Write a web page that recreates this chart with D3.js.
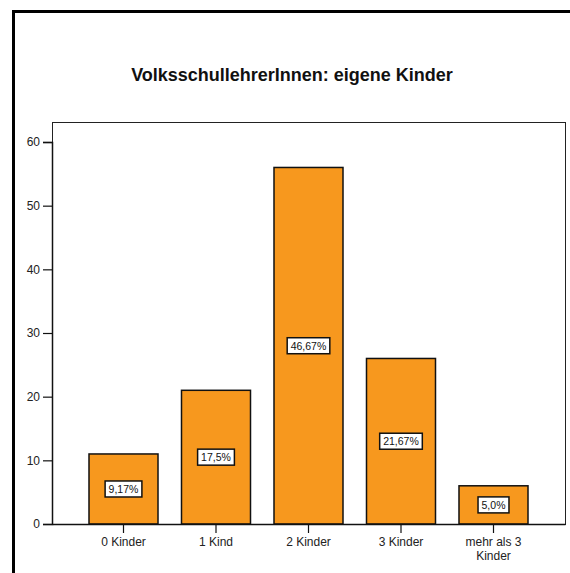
<!DOCTYPE html>
<html>
<head>
<meta charset="utf-8">
<script src="https://cdn.jsdelivr.net/npm/d3@7"></script>
<style>
  body { margin: 0; background: #fff; }
  svg { display: block; font-family: "Liberation Sans", Arial, sans-serif; }
</style>
</head>
<body>
<div id="chart"></div>
<script>
// data
var categories = ["0 Kinder", "1 Kind", "2 Kinder", "3 Kinder", "mehr als 3|Kinder"];
var counts = [11, 21, 56, 26, 6];
var percentLabels = ["9,17%", "17,5%", "46,67%", "21,67%", "5,0%"];
var yTicks = [0, 10, 20, 30, 40, 50, 60];
var title = "VolksschullehrerInnen: eigene Kinder";

var W = 570, H = 573;
var plot = {left: 52, top: 122, right: 565, bottom: 524};

var svg = d3.select("#chart").append("svg")
    .attr("width", W).attr("height", H);

// outer frame (only top & left visible in the reference)
svg.append("rect")
    .attr("x", 13.5).attr("y", 11.5)
    .attr("width", W + 10).attr("height", H + 10)
    .attr("fill", "none").attr("stroke", "#000").attr("stroke-width", 3);

svg.append("text")
    .attr("x", 292).attr("y", 81)
    .attr("text-anchor", "middle")
    .attr("font-size", 18).attr("font-weight", "bold")
    .attr("fill", "#111")
    .text(title);

var x = d3.scaleBand()
    .domain(categories)
    .range([plot.left, plot.right])
    .paddingInner(0.254)
    .paddingOuter(0.4);

var y = d3.scaleLinear()
    .domain([0, 60])
    .range([plot.bottom, plot.bottom - 382]);

// plot frame
svg.append("rect")
    .attr("x", plot.left + 0.5).attr("y", plot.top + 0.5)
    .attr("width", plot.right - plot.left).attr("height", plot.bottom - plot.top)
    .attr("fill", "none").attr("stroke", "#222").attr("stroke-width", 1);

var data = categories.map(function(c, i) {
  return {cat: c, value: counts[i], label: percentLabels[i]};
});

// bars
svg.selectAll(".bar").data(data).enter().append("rect")
    .attr("class", "bar")
    .attr("x", function(d) { return x(d.cat); })
    .attr("y", function(d) { return y(d.value); })
    .attr("width", x.bandwidth())
    .attr("height", function(d) { return y(0) - y(d.value); })
    .attr("fill", "#f7981e")
    .attr("stroke", "#111").attr("stroke-width", 1.5);

// percent labels in boxes
var lab = svg.selectAll(".lab").data(data).enter().append("g")
    .attr("class", "lab")
    .attr("transform", function(d) {
      return "translate(" + (x(d.cat) + x.bandwidth() / 2) + "," + y(d.value / 2) + ")";
    });
lab.each(function(d) {
  var g = d3.select(this);
  var t = g.append("text")
      .attr("text-anchor", "middle")
      .attr("dy", "0.36em")
      .attr("font-size", 10.5)
      .attr("fill", "#111")
      .text(d.label);
  var w = t.node().getComputedTextLength() + 7;
  g.insert("rect", "text")
      .attr("x", -w / 2).attr("y", -8)
      .attr("width", w).attr("height", 16)
      .attr("fill", "#fff").attr("stroke", "#111").attr("stroke-width", 1.5);
});

// y axis
var yAxis = svg.append("g")
    .attr("transform", "translate(" + plot.left + ",0)")
    .call(d3.axisLeft(y).tickValues(yTicks).tickSize(9).tickPadding(3));
yAxis.select(".domain").attr("stroke", "#111").attr("stroke-width", 1.5);
yAxis.selectAll(".tick line").attr("stroke", "#111").attr("stroke-width", 1.2);
yAxis.selectAll("text").attr("font-size", 12).attr("fill", "#222")
    .attr("font-family", "Liberation Sans, Arial, sans-serif");

// x axis
var xAxis = svg.append("g")
    .attr("transform", "translate(0," + plot.bottom + ")")
    .call(d3.axisBottom(x).tickSize(9).tickSizeOuter(0).tickPadding(4));
xAxis.select(".domain").attr("stroke", "#111").attr("stroke-width", 1.5);
xAxis.selectAll(".tick line").attr("stroke", "#111").attr("stroke-width", 1.2);
xAxis.selectAll("text")
    .attr("font-size", 12).attr("fill", "#222")
    .attr("font-family", "Liberation Sans, Arial, sans-serif")
    .each(function(d) {
      var parts = d.split("|");
      var t = d3.select(this).text(null);
      parts.forEach(function(p, i) {
        t.append("tspan").attr("x", 0).attr("dy", i === 0 ? "0.71em" : "1.2em").text(p);
      });
    });
</script>
</body>
</html>
